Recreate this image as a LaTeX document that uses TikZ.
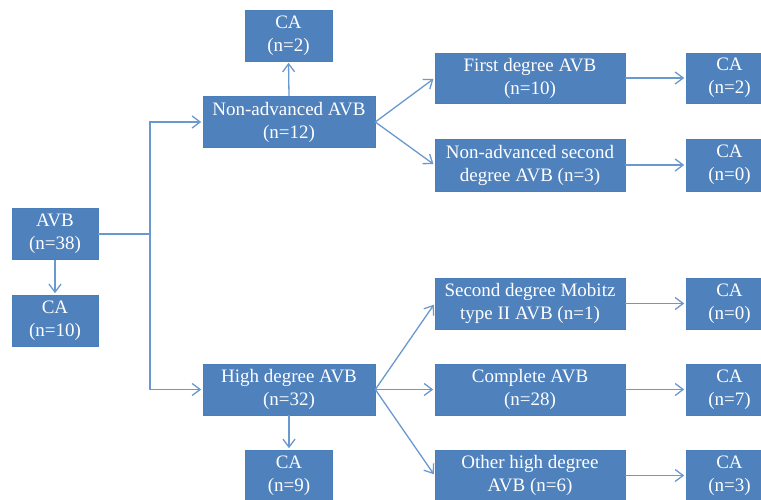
\documentclass[tikz,border=0pt]{standalone}
\usepackage{fontspec}
\setmainfont{Liberation Serif}
\usetikzlibrary{arrows.meta}
\definecolor{boxblue}{HTML}{4F81BD}
\definecolor{boxedge}{HTML}{4A7EBB}
\definecolor{lineblue}{HTML}{6A98D0}
\tikzset{
  box/.style={draw=boxedge, line width=0.6pt, fill=boxblue, text=white, align=center,
    inner sep=0pt, font=\fontsize{19}{23}\selectfont},
  wide/.style={box, minimum width=190pt, minimum height=51pt},
  mid/.style={box, minimum width=172pt, minimum height=51pt},
  small/.style={box, minimum width=87pt, minimum height=51pt},
  conn/.style={draw=lineblue, line width=1.3pt},
  arr/.style={conn, shorten >=1.5pt, -{Straight Barb[length=8pt,width=12pt,line width=1.3pt]}}
}
\begin{document}
\begin{tikzpicture}[x=1pt,y=-1pt]
\useasboundingbox (0,0) rectangle (761,499);
% left column
\node[small, minimum width=86pt] (avb) at (55,234) {AVB\\(n=38)};
\node[small, minimum width=86pt] (ca10) at (55,320.5) {CA\\(n=10)};
% middle column
\node[mid] (nonadv) at (289,122) {Non-advanced AVB\\(n=12)};
\node[small] (ca2a) at (288.5,35.5) {CA\\(n=2)};
\node[mid] (high) at (289,389.5) {High degree AVB\\(n=32)};
\node[small] (ca9) at (289,475.5) {CA\\(n=9)};
% right column
\node[wide, minimum height=50pt] (first) at (530,78) {First degree AVB\\(n=10)};
\node[wide, minimum height=52pt] (nonadv2) at (530,165) {Non-advanced second\\degree AVB (n=3)};
\node[wide] (mob) at (530,303.5) {Second degree Mobitz\\type II AVB (n=1)};
\node[wide] (comp) at (530,389.5) {Complete AVB\\(n=28)};
\node[wide] (other) at (530,475.5) {Other high degree\\AVB (n=6)};
% CA far right
\node[small, minimum height=50pt] (caf) at (729.5,78) {CA\\(n=2)};
\node[small, minimum height=52pt] (can) at (729.5,165) {CA\\(n=0)};
\node[small] (cam) at (729.5,303.5) {CA\\(n=0)};
\node[small] (cac) at (729.5,389.5) {CA\\(n=7)};
\node[small] (cao) at (729.5,475.5) {CA\\(n=3)};
% connectors
\coordinate (jm) at (150,234);
\draw[conn] (avb.east) -- (jm);
\draw[arr] (jm) |- (nonadv.west);
\draw[arr] (jm) |- (high.west);
\draw[arr] (avb.south) -- (ca10.north);
\draw[arr] (nonadv.north) -- (ca2a.south);
\draw[arr] (high.south) -- (ca9.north);
\draw[arr] (nonadv.east) -- (first.west);
\draw[arr] (nonadv.east) -- (nonadv2.west);
\draw[arr] (high.east) -- (mob.west);
\draw[arr] (high.east) -- (comp.west);
\draw[arr] (high.east) -- (other.west);
\draw[arr] (first.east) -- (caf.west);
\draw[arr] (nonadv2.east) -- (can.west);
\draw[arr] (mob.east) -- (cam.west);
\draw[arr] (comp.east) -- (cac.west);
\draw[arr] (other.east) -- (cao.west);
\end{tikzpicture}
\end{document}
